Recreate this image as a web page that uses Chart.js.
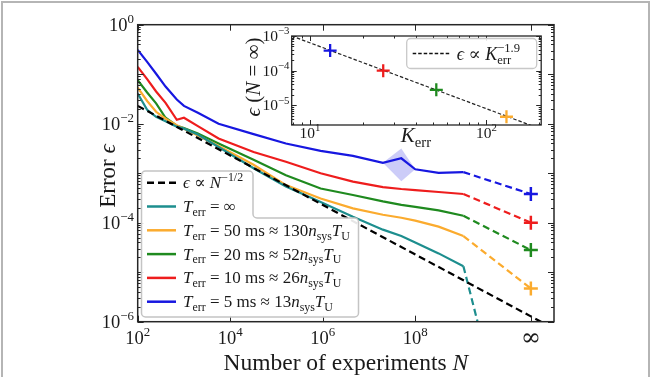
<!DOCTYPE html>
<html>
<head>
<meta charset="utf-8">
<script src="https://cdn.jsdelivr.net/npm/chart.js@4.4.0/dist/chart.umd.min.js"></script>
<style>
  html, body { margin: 0; padding: 0; background: #fff; }
  #wrap { position: relative; width: 651px; height: 377px; overflow: hidden; }
  #mainCanvas { position: absolute; left: 0; top: 0; }
  #insetCanvas { position: absolute; left: 240px; top: 22px; }
</style>
</head>
<body>
<div id="wrap">
  <canvas id="mainCanvas" width="651" height="377" style="width:651px;height:377px"></canvas>
  <canvas id="insetCanvas" width="310" height="130" style="width:310px;height:130px"></canvas>
</div>
<script>
// ---- values ----
const INF_POS = 3.16e10;   // where the "∞" column sits on the N axis

const nGrid = [1e2, 1.6e2, 2.5e2, 4e2, 7e2, 1e3, 2e3, 5.6e3, 3.2e4, 1.6e5, 9e5, 4.5e6, 2e7, 5e7, 1e8, 3.2e8, 1.1e9];
const errTinf = [0.0407, 0.0191, 0.0138, 0.0112, 0.00871, 0.00794, 0.00603, 0.00339, 0.00126, 5.37e-4, 2.63e-4, 1.32e-4, 7.24e-5, 5.37e-5, 3.98e-5, 2.40e-5, 1.32e-5];
const errT50 = [0.0537, 0.0288, 0.0174, 0.0126, 0.00933, 0.00794, 0.00575, 0.00355, 0.00148, 5.75e-4, 3.09e-4, 1.95e-4, 1.45e-4, 1.26e-4, 1.10e-4, 8.32e-5, 5.37e-5];
const errT20 = [0.0759, 0.0427, 0.0257, 0.0132, 0.00912, 0.00813, 0.00631, 0.00398, 0.00186, 9.12e-4, 4.90e-4, 3.63e-4, 2.69e-4, 2.29e-4, 2.09e-4, 1.78e-4, 1.38e-4];
const errT10 = [0.141, 0.0794, 0.0447, 0.0263, 0.0120, 0.0132, 0.00891, 0.00501, 0.00269, 0.00170, 0.00100, 6.76e-4, 5.25e-4, 4.79e-4, 4.57e-4, 4.17e-4, 3.80e-4];
const errT5 = [0.309, 0.178, 0.102, 0.0562, 0.0309, 0.0229, 0.0166, 0.0100, 0.00617, 0.00398, 0.00282, 0.00224, 0.00162, 0.00200, 0.00120, 0.00102, 0.00105];

// T_err = inf curve falls off a cliff after the last point
const nTealDrop = [1.1e9, 2.8e9];
const errTealDrop = [1.32e-5, 4.3e-7];

// eps ~ N^-1/2 guide line
const nScaling = [1e2, 1e11];
const errScaling = [0.0229, 7.2e-7];

// shaded spread on the 5 ms curve
const nBand = [2e7, 5e7, 1e8];
const bandHi = [1.62e-3, 3.16e-3, 1.20e-3];
const bandLo = [1.62e-3, 6.9e-4, 1.20e-3];

// N = inf limits, order: 50 ms, 20 ms, 10 ms, 5 ms
const kErr = [130, 52, 26, 13];
const errAtInf = [4.7e-6, 2.8e-5, 1.0e-4, 3.8e-4];

// inset fit eps ~ K^-1.9
const fitK = [7.87, 200];
const fitErr = [1.0e-3, 2.15e-6];

const mainXTicks = [1e2, 1e4, 1e6, 1e8, INF_POS];
const mainXLabels = ['10^{2}', '10^{4}', '10^{6}', '10^{8}', '∞'];
const mainYTicks = [1, 1e-2, 1e-4, 1e-6];
const mainYLabels = ['10^{0}', '10^{−2}', '10^{−4}', '10^{−6}'];
const insetXTicks = [10, 100];
const insetXLabels = ['10^{1}', '10^{2}'];
const insetYTicks = [1e-3, 1e-4, 1e-5];
const insetYLabels = ['10^{−3}', '10^{−4}', '10^{−5}'];

const legendLabels = [
  '~ϵ~ ∝ ~N~^{−1/2}',
  '~T~_{err} = ∞',
  '~T~_{err} = 50 ms ≈ 130~n~_{sys}~T~_{U}',
  '~T~_{err} = 20 ms ≈ 52~n~_{sys}~T~_{U}',
  '~T~_{err} = 10 ms ≈ 26~n~_{sys}~T~_{U}',
  '~T~_{err} = 5 ms ≈ 13~n~_{sys}~T~_{U}'
];
const insetLegendLabel = '~ϵ~ ∝ ~K~_{err}^{−1.9}';

const C_TEAL = '#1d8e8e', C_ORANGE = '#fbab2e', C_GREEN = '#1f8a1f', C_RED = '#ee1d1d', C_BLUE = '#1717e0';
const legendColors = ['#000', C_TEAL, C_ORANGE, C_GREEN, C_RED, C_BLUE];

const SERIF = '"Liberation Serif", "DejaVu Serif", serif';
const INSET_OX = 240, INSET_OY = 22;

function pts(xs, ys) { return xs.map((v, i) => ({ x: v, y: ys[i] })); }

// tiny rich text: ~italic~, _{sub}, ^{sup}
function parseRich(s) {
  const segs = [];
  let italic = false, buf = '', i = 0;
  const flush = () => { if (buf) { segs.push({ t: buf, k: italic ? 'i' : 'n' }); buf = ''; } };
  while (i < s.length) {
    const c = s[i];
    if (c === '~') { flush(); italic = !italic; i++; }
    else if ((c === '_' || c === '^') && s[i + 1] === '{') {
      flush();
      const j = s.indexOf('}', i);
      segs.push({ t: s.slice(i + 2, j), k: c === '_' ? 'sub' : 'sup' });
      i = j + 1;
    } else { buf += c; i++; }
  }
  flush();
  return segs;
}

function fontFor(kind, size) {
  if (kind === 'i') return `italic ${size}px ${SERIF}`;
  if (kind === 'sub' || kind === 'sup') return `${(size * 0.7).toFixed(1)}px ${SERIF}`;
  return `${size}px ${SERIF}`;
}

function drawRich(ctx, str, x, y, size, align) {
  const segs = parseRich(str);
  let cx = 0, subStart = null, subEnd = 0;
  const placed = [];
  for (const s of segs) {
    ctx.font = fontFor(s.k, size);
    const w = ctx.measureText(s.t).width;
    if (s.k === 'sub') {
      placed.push({ s, x: cx, dy: 0.22 * size });
      subStart = cx; subEnd = cx + w; cx = subEnd;
    } else if (s.k === 'sup') {
      const sx = subStart !== null ? subStart : cx;
      placed.push({ s, x: sx, dy: -0.42 * size });
      cx = Math.max(cx, sx + w); subStart = null;
    } else {
      placed.push({ s, x: cx, dy: 0 });
      cx += w; subStart = null;
    }
  }
  const x0 = align === 'center' ? x - cx / 2 : align === 'right' ? x - cx : x;
  ctx.textBaseline = 'alphabetic';
  ctx.textAlign = 'left';
  for (const p of placed) {
    ctx.font = fontFor(p.s.k, size);
    ctx.fillText(p.s.t, x0 + p.x, y + p.dy);
  }
  return cx;
}

function logMinors(lo, hi) {
  const out = [];
  for (let d = Math.floor(Math.log10(lo)); d <= Math.ceil(Math.log10(hi)); d++) {
    for (let m = 2; m <= 9; m++) {
      const v = m * Math.pow(10, d);
      if (v > lo && v < hi) out.push(v);
    }
  }
  return out;
}

function drawTicks(chart, spec) {
  const { ctx, chartArea: a, scales: { x, y } } = chart;
  ctx.save();
  ctx.strokeStyle = '#262626';
  ctx.lineWidth = 1;
  ctx.beginPath();
  const seg = (x1, y1, x2, y2) => { ctx.moveTo(x1, y1); ctx.lineTo(x2, y2); };
  const xt = (vals, len) => vals.forEach(v => {
    const p = Math.round(x.getPixelForValue(v)) + 0.5;
    seg(p, a.bottom, p, a.bottom - len); seg(p, a.top, p, a.top + len);
  });
  const yt = (vals, len) => vals.forEach(v => {
    const p = Math.round(y.getPixelForValue(v)) + 0.5;
    seg(a.left, p, a.left + len, p); seg(a.right, p, a.right - len, p);
  });
  xt(spec.xMajor, spec.major); xt(spec.xMinor, spec.minor);
  yt(spec.yMajor, spec.major); yt(spec.yMinor, spec.minor);
  ctx.stroke();
  ctx.lineWidth = spec.frame;
  ctx.strokeRect(a.left, a.top, a.width, a.height);
  ctx.restore();
}

function roundPoly(ctx, p, r) {
  ctx.beginPath();
  const n = p.length;
  ctx.moveTo((p[0][0] + p[1][0]) / 2, (p[0][1] + p[1][1]) / 2);
  for (let i = 1; i <= n; i++) {
    const c = p[i % n], nx = p[(i + 1) % n];
    ctx.arcTo(c[0], c[1], (c[0] + nx[0]) / 2, (c[1] + nx[1]) / 2, r);
  }
  ctx.closePath();
}

// ---- main chart ----
const mainDeco = {
  id: 'mainDeco',
  beforeDraw(chart) {
    const { ctx } = chart;
    ctx.save();
    ctx.fillStyle = '#fff';
    ctx.fillRect(0, 0, chart.width, chart.height);
    ctx.restore();
  },
  afterDraw(chart) {
    const { ctx, chartArea: a, scales: { x, y } } = chart;
    drawTicks(chart, {
      xMajor: mainXTicks, xMinor: [],
      yMajor: [1, 1e-1, 1e-2, 1e-3, 1e-4, 1e-5, 1e-6], yMinor: logMinors(1e-6, 1),
      major: 6, minor: 3, frame: 1.5
    });
    ctx.save();
    ctx.fillStyle = '#1a1a1a';
    mainXTicks.forEach((v, i) => {
      const px = x.getPixelForValue(v);
      if (mainXLabels[i] === '∞') {
        ctx.font = `24px "DejaVu Serif", serif`;
        ctx.textAlign = 'center'; ctx.textBaseline = 'middle';
        ctx.fillText('∞', px, 339);
      } else {
        drawRich(ctx, mainXLabels[i], px, 338 + 6, 18.5, 'center');
      }
    });
    mainYTicks.forEach((v, i) => {
      drawRich(ctx, mainYLabels[i], 134, y.getPixelForValue(v) + 6, 18.5, 'right');
    });
    drawRich(ctx, 'Number of experiments ~N~', (a.left + a.right) / 2, 369.5, 23.5, 'center');
    ctx.save();
    ctx.translate(107 + 7.5, 176);
    ctx.rotate(-Math.PI / 2);
    drawRich(ctx, 'Error ~ϵ~', 0, 0, 23, 'center');
    ctx.restore();

    // legend
    const box = [[141.5, 171], [253, 171], [253, 218], [358.5, 218], [358.5, 317], [141.5, 317]];
    roundPoly(ctx, box, 4);
    ctx.fillStyle = 'rgba(255,255,255,0.9)';
    ctx.fill();
    ctx.strokeStyle = '#c4c4c4';
    ctx.lineWidth = 1.5;
    ctx.stroke();
    legendLabels.forEach((lab, i) => {
      const ry = 182.7 + i * 23.8;
      ctx.save();
      ctx.strokeStyle = legendColors[i];
      ctx.lineWidth = 2.5;
      if (i === 0) ctx.setLineDash([7, 4]);
      ctx.beginPath(); ctx.moveTo(147, ry); ctx.lineTo(176, ry); ctx.stroke();
      ctx.restore();
      ctx.fillStyle = '#1a1a1a';
      drawRich(ctx, lab, 183, ry + 5.5, 17, 'left');
    });

    // figure frame
    ctx.strokeStyle = '#b5b5b5';
    ctx.lineWidth = 2;
    ctx.strokeRect(2, 2, 647, 390);
    ctx.restore();
  }
};

const lineDs = (label, xs, ys, color, extra) => Object.assign({
  label, data: pts(xs, ys), borderColor: color, backgroundColor: color,
  borderWidth: 2.2, pointRadius: 0, fill: false, tension: 0
}, extra || {});

const colsInf = [C_ORANGE, C_GREEN, C_RED, C_BLUE];
const lastVals = [errT50[errT50.length - 1], errT20[errT20.length - 1], errT10[errT10.length - 1], errT5[errT5.length - 1]];
const nLast = nGrid[nGrid.length - 1];

const mainDatasets = [
  lineDs('band lo', nBand, bandLo, 'rgba(0,0,0,0)', { borderWidth: 0, order: 20 }),
  lineDs('band hi', nBand, bandHi, 'rgba(0,0,0,0)', { borderWidth: 0, fill: '-1', backgroundColor: 'rgba(110,110,235,0.35)', order: 19 }),
  lineDs('scaling', nScaling, errScaling, '#000', { borderDash: [7, 4], order: 1 }),
  lineDs('T=inf', nGrid, errTinf, C_TEAL, { order: 2 }),
  lineDs('T=inf drop', nTealDrop, errTealDrop, C_TEAL, { borderDash: [7, 4], order: 2 }),
  lineDs('50 ms', nGrid, errT50, C_ORANGE, { order: 2 }),
  lineDs('20 ms', nGrid, errT20, C_GREEN, { order: 2 }),
  lineDs('10 ms', nGrid, errT10, C_RED, { order: 2 }),
  lineDs('5 ms', nGrid, errT5, C_BLUE, { order: 2 })
];
colsInf.forEach((c, i) => {
  mainDatasets.push(lineDs('extrap ' + i, [nLast, INF_POS], [lastVals[i], errAtInf[i]], c, { borderDash: [7, 4], order: 3 }));
  mainDatasets.push(lineDs('limit ' + i, [INF_POS], [errAtInf[i]], c, {
    showLine: false, pointRadius: 7, pointStyle: 'cross', pointBorderWidth: 2.5,
    pointBorderColor: c, pointHoverRadius: 7, order: 0
  }));
});

new Chart(document.getElementById('mainCanvas'), {
  type: 'line',
  data: { datasets: mainDatasets },
  options: {
    responsive: false,
    animation: false,
    devicePixelRatio: 1,
    layout: { padding: { left: 137.7, top: 24.7, right: 97, bottom: 55.3 } },
    scales: {
      x: { type: 'logarithmic', min: 1e2, max: 1e11, display: false },
      y: { type: 'logarithmic', min: 1e-6, max: 1, display: false }
    },
    plugins: { legend: { display: false }, tooltip: { enabled: false } }
  },
  plugins: [mainDeco]
});

// ---- inset ----
const insetDeco = {
  id: 'insetDeco',
  beforeDraw(chart) {
    const { ctx, chartArea: a } = chart;
    ctx.save();
    ctx.fillStyle = '#fff';
    ctx.fillRect(a.left, a.top, a.width, a.height);
    ctx.restore();
  },
  afterDraw(chart) {
    const { ctx, chartArea: a, scales: { x, y } } = chart;
    drawTicks(chart, {
      xMajor: insetXTicks, xMinor: logMinors(7.87, 204.6),
      yMajor: insetYTicks, yMinor: logMinors(2.72e-6, 1e-3),
      major: 5, minor: 2.5, frame: 1.3
    });
    ctx.save();
    ctx.fillStyle = '#1a1a1a';
    insetXTicks.forEach((v, i) => {
      drawRich(ctx, insetXLabels[i], x.getPixelForValue(v), 133 - INSET_OY + 5, 15.5, 'center');
    });
    insetYTicks.forEach((v, i) => {
      drawRich(ctx, insetYLabels[i], 289.5 - INSET_OX, y.getPixelForValue(v) + 5, 15.5, 'right');
    });
    drawRich(ctx, '~K~_{err}', 416 - INSET_OX, 142 - INSET_OY, 21, 'center');
    ctx.save();
    ctx.translate(253 - INSET_OX + 7, 77 - INSET_OY);
    ctx.rotate(-Math.PI / 2);
    drawRich(ctx, '~ϵ~ (~N~ = ∞)', 0, 0, 21, 'center');
    ctx.restore();

    // inset legend
    const bx = 406.7 - INSET_OX, by = 38.5 - INSET_OY;
    roundPoly(ctx, [[bx, by], [bx + 130, by], [bx + 130, by + 30], [bx, by + 30]], 4);
    ctx.fillStyle = 'rgba(255,255,255,0.9)';
    ctx.fill();
    ctx.strokeStyle = '#c8c8c8';
    ctx.lineWidth = 1.3;
    ctx.stroke();
    ctx.save();
    ctx.strokeStyle = '#111';
    ctx.lineWidth = 1.3;
    ctx.setLineDash([3.5, 2]);
    ctx.beginPath(); ctx.moveTo(bx + 6, by + 15); ctx.lineTo(bx + 43, by + 15); ctx.stroke();
    ctx.restore();
    ctx.fillStyle = '#1a1a1a';
    drawRich(ctx, insetLegendLabel, bx + 50, by + 21.5, 18, 'left');
    ctx.restore();
  }
};

new Chart(document.getElementById('insetCanvas'), {
  type: 'line',
  data: {
    datasets: [
      {
        label: 'fit', data: pts(fitK, fitErr), borderColor: '#222', borderWidth: 1.2,
        borderDash: [3.5, 2], pointRadius: 0, fill: false, order: 2
      },
      {
        label: 'limits', data: pts(kErr, errAtInf), showLine: false,
        pointStyle: 'cross', pointRadius: 6.5, pointHoverRadius: 6.5, pointBorderWidth: 2.3,
        pointBorderColor: colsInf, pointBackgroundColor: colsInf, order: 1
      }
    ]
  },
  options: {
    responsive: false,
    animation: false,
    devicePixelRatio: 1,
    layout: { padding: { left: 291.7 - INSET_OX, top: 36 - INSET_OY, right: INSET_OX + 310 - 541.7, bottom: INSET_OY + 130 - 125 } },
    scales: {
      x: { type: 'logarithmic', min: 7.87, max: 204.6, display: false },
      y: { type: 'logarithmic', min: 2.72e-6, max: 1e-3, display: false }
    },
    plugins: { legend: { display: false }, tooltip: { enabled: false } }
  },
  plugins: [insetDeco]
});
</script>
</body>
</html>
